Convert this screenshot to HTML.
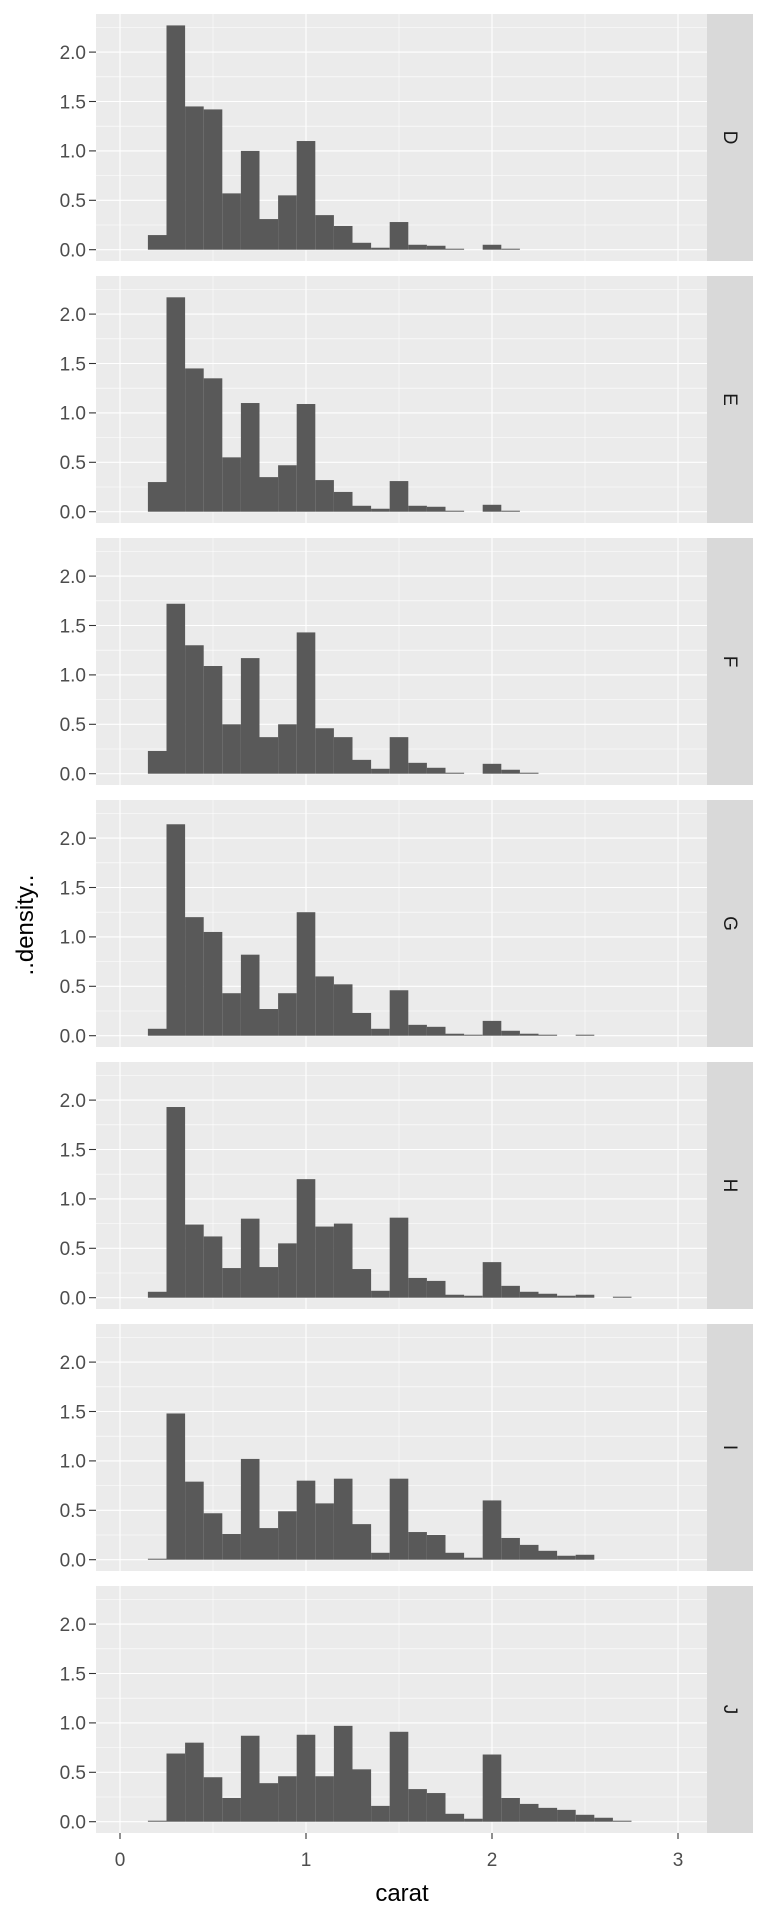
<!DOCTYPE html>
<html><head><meta charset="utf-8"><style>html,body{margin:0;padding:0;background:#fff}svg{display:block}text{font-family:"Liberation Sans",sans-serif}</style></head>
<body>
<svg id="s" width="768" height="1920" xmlns="http://www.w3.org/2000/svg">
<g id="panels"></g>
<g font-size="19" fill="#4d4d4d" text-anchor="end">
<g transform="translate(0,14)"><text x="86" y="242.5">0.0</text><text x="86" y="193.1">0.5</text><text x="86" y="143.7">1.0</text><text x="86" y="94.3">1.5</text><text x="86" y="44.9">2.0</text></g>
<g transform="translate(0,276)"><text x="86" y="242.5">0.0</text><text x="86" y="193.1">0.5</text><text x="86" y="143.7">1.0</text><text x="86" y="94.3">1.5</text><text x="86" y="44.9">2.0</text></g>
<g transform="translate(0,538)"><text x="86" y="242.5">0.0</text><text x="86" y="193.1">0.5</text><text x="86" y="143.7">1.0</text><text x="86" y="94.3">1.5</text><text x="86" y="44.9">2.0</text></g>
<g transform="translate(0,800)"><text x="86" y="242.5">0.0</text><text x="86" y="193.1">0.5</text><text x="86" y="143.7">1.0</text><text x="86" y="94.3">1.5</text><text x="86" y="44.9">2.0</text></g>
<g transform="translate(0,1062)"><text x="86" y="242.5">0.0</text><text x="86" y="193.1">0.5</text><text x="86" y="143.7">1.0</text><text x="86" y="94.3">1.5</text><text x="86" y="44.9">2.0</text></g>
<g transform="translate(0,1324)"><text x="86" y="242.5">0.0</text><text x="86" y="193.1">0.5</text><text x="86" y="143.7">1.0</text><text x="86" y="94.3">1.5</text><text x="86" y="44.9">2.0</text></g>
<g transform="translate(0,1586)"><text x="86" y="242.5">0.0</text><text x="86" y="193.1">0.5</text><text x="86" y="143.7">1.0</text><text x="86" y="94.3">1.5</text><text x="86" y="44.9">2.0</text></g>
</g>
<g font-size="19" fill="#1a1a1a" text-anchor="middle">
<text transform="translate(724,137.5) rotate(90)">D</text>
<text transform="translate(724,399.5) rotate(90)">E</text>
<text transform="translate(724,661.5) rotate(90)">F</text>
<text transform="translate(724,923.5) rotate(90)">G</text>
<text transform="translate(724,1185.5) rotate(90)">H</text>
<text transform="translate(724,1447.5) rotate(90)">I</text>
<text transform="translate(724,1709.5) rotate(90)">J</text>
</g>
<g font-size="19" fill="#4d4d4d" text-anchor="middle">
<text x="120" y="1866">0</text><text x="306" y="1866">1</text><text x="492" y="1866">2</text><text x="678" y="1866">3</text>
</g>
<g stroke="#333" stroke-width="1.1">
<line x1="120" y1="1833" x2="120" y2="1839"/><line x1="306" y1="1833" x2="306" y2="1839"/><line x1="492" y1="1833" x2="492" y2="1839"/><line x1="678" y1="1833" x2="678" y2="1839"/>
</g>
<text x="402" y="1901" font-size="24" fill="#000" text-anchor="middle">carat</text>
<text transform="translate(33,925) rotate(-90)" font-size="24" fill="#000" text-anchor="middle">..density..</text>
</svg>
<script>
var data=[
[0.148,2.27,1.45,1.42,0.57,1.0,0.31,0.55,1.10,0.35,0.24,0.07,0.02,0.28,0.05,0.04,0.01,0,0.05,0.01],
[0.3,2.17,1.45,1.35,0.55,1.1,0.35,0.47,1.09,0.32,0.2,0.06,0.03,0.31,0.06,0.05,0.01,0,0.07,0.01],
[0.23,1.72,1.3,1.09,0.5,1.17,0.37,0.5,1.43,0.46,0.37,0.14,0.05,0.37,0.11,0.06,0.01,0,0.1,0.04,0.01],
[0.07,2.14,1.2,1.05,0.43,0.82,0.27,0.43,1.25,0.6,0.52,0.23,0.07,0.46,0.11,0.09,0.02,0.01,0.15,0.05,0.02,0.01,0,0.01],
[0.06,1.93,0.74,0.62,0.3,0.8,0.31,0.55,1.2,0.72,0.75,0.29,0.07,0.81,0.2,0.17,0.03,0.02,0.36,0.12,0.06,0.04,0.02,0.03,0,0.01],
[0.01,1.48,0.79,0.47,0.26,1.02,0.32,0.49,0.8,0.57,0.82,0.36,0.07,0.82,0.28,0.25,0.07,0.02,0.6,0.22,0.15,0.09,0.04,0.05],
[0.01,0.69,0.8,0.45,0.24,0.87,0.39,0.46,0.88,0.46,0.97,0.53,0.16,0.91,0.33,0.29,0.08,0.03,0.68,0.24,0.18,0.14,0.12,0.07,0.04,0.01]];
var gp=document.getElementById("panels"),h="";
function X(c){return 120+c*186;}
for(var i=0;i<7;i++){var ty=14+i*262,z=ty+235.7,k=98.8;
h+='<rect x="96" y="'+ty+'" width="611" height="247" fill="#EBEBEB"/>';
h+='<rect x="707" y="'+ty+'" width="46" height="247" fill="#D9D9D9"/>';
for(var v=0.25;v<2.4;v+=0.5)h+='<line x1="96" x2="707" y1="'+(z-v*k)+'" y2="'+(z-v*k)+'" stroke="#fff" stroke-width="0.55"/>';
for(var c=0.5;c<3.2;c+=1)h+='<line y1="'+ty+'" y2="'+(ty+247)+'" x1="'+X(c)+'" x2="'+X(c)+'" stroke="#fff" stroke-width="0.55"/>';
for(var v=0;v<2.1;v+=0.5)h+='<line x1="96" x2="707" y1="'+(z-v*k)+'" y2="'+(z-v*k)+'" stroke="#fff" stroke-width="1.1"/><line x1="89" x2="96" y1="'+(z-v*k)+'" y2="'+(z-v*k)+'" stroke="#333" stroke-width="1.1"/>';
for(var c=0;c<4;c++)h+='<line y1="'+ty+'" y2="'+(ty+247)+'" x1="'+X(c)+'" x2="'+X(c)+'" stroke="#fff" stroke-width="1.1"/>';
var d=data[i];for(var j=0;j<d.length;j++){if(d[j]<=0)continue;var x0=X(0.15+j*0.1),x1=X(0.25+j*0.1),hh=d[j]*k;
h+='<rect x="'+x0+'" y="'+(z-hh)+'" width="'+(x1-x0)+'" height="'+hh+'" fill="#595959"/>';}
}
gp.innerHTML=h;
</script>
</body></html>
